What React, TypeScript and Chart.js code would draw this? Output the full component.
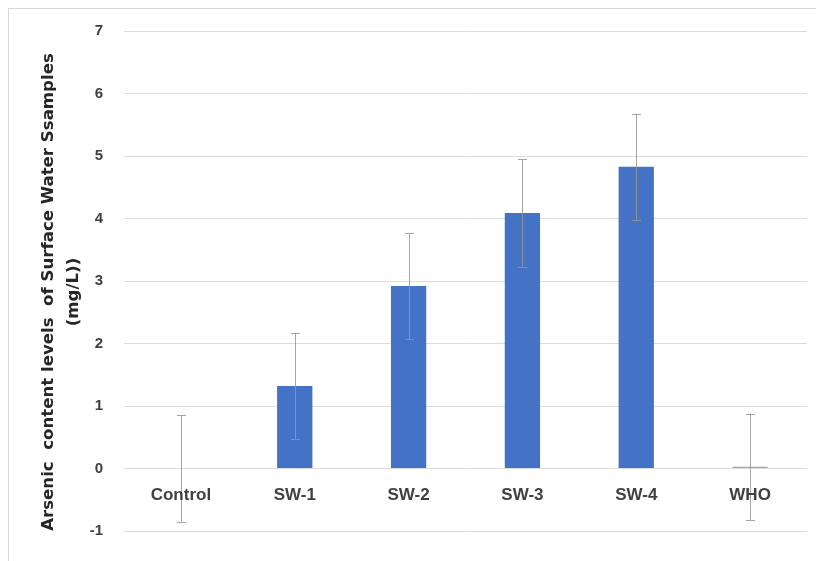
import React, { useEffect, useRef } from 'react';
import { Chart, registerables } from 'chart.js';

Chart.register(...registerables);

const categories = ['Control', 'SW-1', 'SW-2', 'SW-3', 'SW-4', 'WHO'];
const values = [0, 1.32, 2.92, 4.09, 4.83, 0.03];
const errors = [0.85, 0.85, 0.85, 0.86, 0.85, 0.85];
const barColors = ['#4472C4', '#4472C4', '#4472C4', '#4472C4', '#4472C4', '#A6A6A6'];
const yMin = -1;
const yMax = 7;
const yStep = 1;
const yTitle = ['Arsenic  content levels  of Surface Water Ssamples', '(mg/L))'];

const FONT = "'Liberation Sans', Arial, sans-serif";
const TITLE_FONT = "'DejaVu Sans', 'Liberation Sans', sans-serif";

const extrasPlugin = {
  id: 'extras',
  afterDatasetsDraw(chart: any) {
    const { ctx, scales } = chart;
    const x = scales.x;
    const y = scales.y;
    ctx.save();
    ctx.strokeStyle = 'rgba(150,150,150,0.85)';
    ctx.lineWidth = 1;
    values.forEach((v, i) => {
      const px = Math.round(x.getPixelForValue(i)) + 0.5;
      const top = y.getPixelForValue(v + errors[i]);
      const bot = y.getPixelForValue(v - errors[i]);
      ctx.beginPath();
      ctx.moveTo(px, top);
      ctx.lineTo(px, bot);
      ctx.moveTo(px - 4.5, Math.round(top) + 0.5);
      ctx.lineTo(px + 4.5, Math.round(top) + 0.5);
      ctx.moveTo(px - 4.5, Math.round(bot) + 0.5);
      ctx.lineTo(px + 4.5, Math.round(bot) + 0.5);
      ctx.stroke();
    });
    ctx.restore();
  },
  afterDraw(chart: any) {
    const { ctx, scales } = chart;
    const x = scales.x;
    const y = scales.y;
    ctx.save();
    // outer frame
    ctx.strokeStyle = '#d9d9d9';
    ctx.lineWidth = 1;
    ctx.strokeRect(8.5, 8.5, 1000, 1000);
    // category labels at the zero line
    ctx.fillStyle = '#404040';
    ctx.font = `bold 17px ${FONT}`;
    ctx.textAlign = 'center';
    ctx.textBaseline = 'middle';
    const zeroY = y.getPixelForValue(0);
    categories.forEach((c, i) => {
      ctx.fillText(c, x.getPixelForValue(i), zeroY + 27);
    });
    // y axis title
    ctx.fillStyle = '#262626';
    ctx.font = `bold 16.6px ${TITLE_FONT}`;
    const cy = 292;
    ctx.translate(49, cy);
    ctx.rotate(-Math.PI / 2);
    ctx.fillText(yTitle[0], 0, 0);
    ctx.rotate(Math.PI / 2);
    ctx.translate(25, 0);
    ctx.rotate(-Math.PI / 2);
    ctx.fillText(yTitle[1], 0, 0);
    ctx.restore();
  },
};

export default function App() {
  const ref = useRef<HTMLCanvasElement | null>(null);
  useEffect(() => {
    if (!ref.current) return;
    const chart = new Chart(ref.current, {
      type: 'bar',
      data: {
        labels: categories,
        datasets: [
          {
            data: values,
            backgroundColor: barColors,
            borderWidth: 0,
            barPercentage: 0.31,
            categoryPercentage: 1,
          },
        ],
      },
      options: {
        animation: false,
        responsive: false,
        layout: { padding: { left: 0, top: 31, right: 9, bottom: 28 } },
        plugins: { legend: { display: false }, tooltip: { enabled: false }, title: { display: false } },
        scales: {
          x: { type: 'category', display: false },
          y: {
            min: yMin,
            max: yMax,
            ticks: {
              stepSize: yStep,
              color: '#404040',
              font: { family: FONT, size: 15, weight: 'bold' },
              padding: 21,
            },
            grid: { color: '#dcdcdc', drawTicks: false },
            border: { display: false },
            afterFit: (s: any) => {
              s.width = 124;
            },
          },
        },
      },
      plugins: [extrasPlugin],
    });
    return () => chart.destroy();
  }, []);
  return (
    <div style={{ position: 'absolute', left: 0, top: 0, width: 816, height: 561, background: '#fff' }}>
      <canvas ref={ref} width={816} height={561} />
    </div>
  );
}
